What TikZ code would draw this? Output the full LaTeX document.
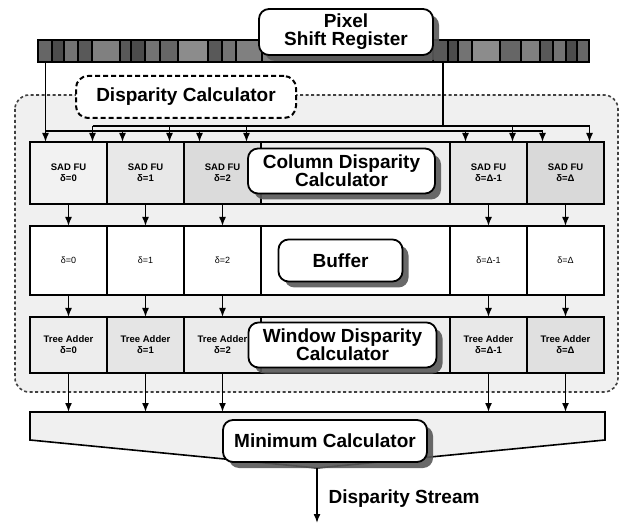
\documentclass[tikz,border=0pt]{standalone}
\usepackage{fontspec}
\setmainfont{Liberation Sans}
\usetikzlibrary{positioning,arrows.meta,shadows}

\begin{document}
\begin{tikzpicture}[
  x=1pt, y=-1pt,
  cell/.style={
    draw,
    line width=1.6pt,
    inner sep=0pt,
    outer sep=0pt,
    anchor=north west,
    minimum width=77pt,
    align=center
  },
  sadcell/.style={cell, minimum height=62pt, font=\fontsize{9.5}{11}\selectfont\bfseries},
  bufcell/.style={cell, minimum height=69pt, fill=white, font=\fontsize{9}{11}\selectfont},
  addcell/.style={cell, minimum height=56pt, font=\fontsize{9.5}{11}\selectfont\bfseries},
  midcell/.style={minimum width=189pt},
  lbl/.style={
    draw,
    line width=1.8pt,
    rounded corners=10pt,
    fill=white,
    align=center,
    inner sep=0pt,
    font=\fontsize{19}{18}\selectfont\bfseries,
    drop shadow={shadow xshift=6pt, shadow yshift=-6pt, fill=black!65, opacity=0.9}
  },
  dclbl/.style={
    draw,
    line width=2pt,
    dash pattern=on 5pt off 3pt,
    rounded corners=12pt,
    fill=white,
    inner sep=0pt,
    minimum width=220pt,
    minimum height=42pt,
    font=\fontsize{19}{18}\selectfont\bfseries
  },
  region/.style={
    draw=black!75,
    line width=1.6pt,
    dash pattern=on 3pt off 2.5pt,
    rounded corners=14pt,
    fill=gray!12
  },
  wire/.style={line width=1.5pt},
  arr/.style={line width=1.5pt, -{Latex[length=9pt,width=7pt]}}
]
\useasboundingbox (0,0) rectangle (626,526);

% --------------------
% Disparity calculator region
% --------------------
\draw[region] (15,95) rectangle (618,392);
\node[dclbl] (dclbl) at (186,97) {Disparity Calculator};

% --------------------
% Pixel shift register
% --------------------
\foreach \xa/\w/\s in {38/14/60, 52/12/70, 64/14/55, 78/14/65, 92/28/50, 120/11/65,
    131/14/70, 145/15/55, 160/18/60, 178/30/45, 208/14/65, 222/14/55, 236/26/50,
    262/171/50, 433/15/65, 448/10/70, 458/14/55, 472/28/45, 500/21/60, 521/19/50,
    540/13/65, 553/13/55, 566/11/70, 577/12/60}
  \draw[line width=1.2pt, fill=black!\s] (\xa,40) rectangle ++(\w,22);
\node[draw, line width=1.6pt, inner sep=0pt, outer sep=0pt, anchor=north west,
  minimum width=551pt, minimum height=22pt] (bar) at (38,40) {};
\node[lbl, minimum width=174pt, minimum height=46pt] (pixlbl) at (346,32)
{Pixel\\Shift Register};

% --------------------
% Column disparity row
% --------------------
\node[sadcell, fill=gray!10] (sad0) at (30,142) {SAD FU\\δ=0};
\node[sadcell, fill=gray!18, right=0pt of sad0] (sad1) {SAD FU\\δ=1};
\node[sadcell, fill=gray!28, right=0pt of sad1] (sad2) {SAD FU\\δ=2};
\node[sadcell, midcell, fill=gray!15, right=0pt of sad2] (sadmid) {};
\node[sadcell, fill=gray!20, right=0pt of sadmid] (sadd1) {SAD FU\\δ=Δ-1};
\node[sadcell, fill=gray!30, right=0pt of sadd1] (sadd) {SAD FU\\δ=Δ};

% --------------------
% Buffer row
% --------------------
\node[bufcell, below=22pt of sad0] (buf0) {δ=0};
\node[bufcell, right=0pt of buf0] (buf1) {δ=1};
\node[bufcell, right=0pt of buf1] (buf2) {δ=2};
\node[bufcell, midcell, right=0pt of buf2] (bufmid) {};
\node[bufcell, right=0pt of bufmid] (bufd1) {δ=Δ-1};
\node[bufcell, right=0pt of bufd1] (bufd) {δ=Δ};

% --------------------
% Window disparity row
% --------------------
\node[addcell, fill=gray!14, below=22pt of buf0] (add0) {Tree Adder\\δ=0};
\node[addcell, fill=gray!20, right=0pt of add0] (add1) {Tree Adder\\δ=1};
\node[addcell, fill=gray!16, right=0pt of add1] (add2) {Tree Adder\\δ=2};
\node[addcell, midcell, fill=gray!14, right=0pt of add2] (addmid) {};
\node[addcell, fill=gray!18, right=0pt of addmid] (addd1) {Tree Adder\\δ=Δ-1};
\node[addcell, fill=gray!24, right=0pt of addd1] (addd) {Tree Adder\\δ=Δ};

% --------------------
% Labels on the rows
% --------------------
\node[lbl, minimum width=187pt, minimum height=45pt, xshift=-14pt, yshift=2pt]
  (collbl) at (sadmid) {Column Disparity\\Calculator};
\node[lbl, minimum width=124pt, minimum height=42pt, xshift=-15pt]
  (buflbl) at (bufmid) {Buffer};
\node[lbl, minimum width=188pt, minimum height=45pt, xshift=-13pt]
  (winlbl) at (addmid) {Window Disparity\\Calculator};

% --------------------
% Pixel distribution
% --------------------
\coordinate (busR) at (0,126);
\coordinate (busL) at (0,131);
\coordinate (tapR) at (443,62);
\draw[wire] ([xshift=-23pt]sad0.north |- bar.south) -- ([xshift=-23pt]sad0.north |- busL)
  -- ([xshift=-23pt]sadd.north |- busL);
\draw[wire] (tapR) -- (tapR |- busR);
\draw[wire] ([xshift=24pt]sad0.north |- busR) -- ([xshift=24pt]sadd.north |- busR);
\foreach \c in {0,1,2,d1,d} {
  \draw[arr] ([xshift=-23pt]sad\c.north |- busL) -- ([xshift=-23pt]sad\c.north);
  \draw[arr] ([xshift=24pt]sad\c.north |- busR) -- ([xshift=24pt]sad\c.north);
}

% --------------------
% Minimum calculator
% --------------------
\coordinate (mintop) at (30,412);
\coordinate (minpt) at (317,468);
\coordinate (streamend) at (317,523);
\draw[line width=1.6pt, fill=gray!12] (mintop) -- (605,412) -- (605,440) -- (minpt)
  -- (30,440) -- cycle;
\node[lbl, minimum width=204pt, minimum height=42pt] (minlbl) at (325,441)
{Minimum Calculator};

% --------------------
% Arrows between rows
% --------------------
\foreach \c in {0,1,2,d1,d} {
  \draw[arr] (sad\c) -- (buf\c);
  \draw[arr] (buf\c) -- (add\c);
  \draw[arr] (add\c) -- (add\c.south |- mintop);
}
\draw[arr] (minpt) -- (streamend);
\node[font=\fontsize{19}{18}\selectfont\bfseries, anchor=west] (streamlbl) at (325,499)
{Disparity Stream};

\end{tikzpicture}
\end{document}
